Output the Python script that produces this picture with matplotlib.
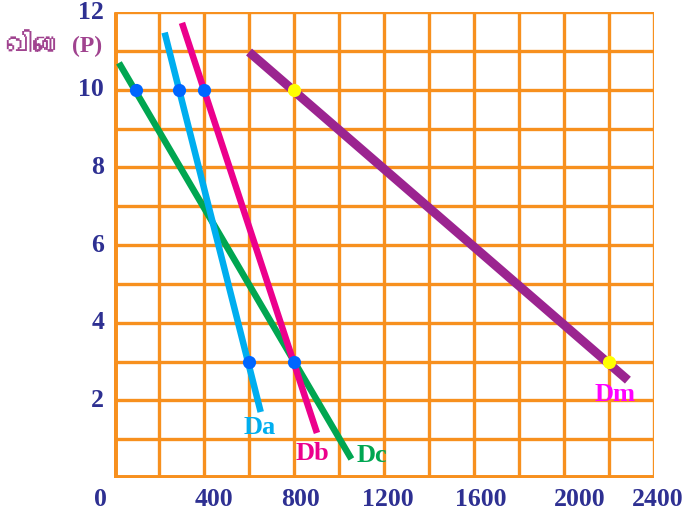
import matplotlib
matplotlib.use("Agg")
import matplotlib.pyplot as plt
from matplotlib import font_manager
from matplotlib.ft2font import FT2Font

# ---------------- data ----------------
x_ticks = [0, 400, 800, 1200, 1600, 2000, 2400]
x_tick_labels = ["0", "400", "800", "1200", "1600", "2000", "2400"]
x_label_pos = [-62, 444, 827, 1217, 1631, 2071, 2418]
y_ticks = [2, 4, 6, 8, 10, 12]
y_tick_labels = ["2", "4", "6", "8", "10", "12"]

# demand lines (endpoints)
da_x = [225, 652]
da_y = [11.47, 1.70]
db_x = [302, 902]
db_y = [11.72, 1.16]
dc_x = [22, 1055]
dc_y = [10.69, 0.49]
dm_x = [600, 2284]
dm_y = [10.97, 2.52]

# individual demand points (blue) and market demand points (yellow)
ind_pts_x = [98, 290, 400, 600, 800]
ind_pts_y = [10, 10, 10, 3, 3]
mkt_pts_x = [800, 2200]
mkt_pts_y = [10, 3]

curve_names = ["Da", "Db", "Dc", "Dm"]
curve_label_x = [649, 880, 1147, 2227]
curve_label_y = [1.29, 0.62, 0.57, 2.16]

ylabel_text = "விலை"
ylabel_p = "(P)"

# ---------------- style ----------------
ORANGE = "#f7901e"
NAVY = "#2e3092"
PURPLE_TXT = "#a0438f"
C_DA = "#00aeef"
C_DB = "#ec008c"
C_DC = "#00a651"
C_DM = "#9b2490"
label_colors = [C_DA, C_DB, C_DC, "#ff00ff"]


def find_tamil_font():
    for f in font_manager.fontManager.ttflist:
        try:
            ft = FT2Font(f.fname)
            if all(ft.get_char_index(ord(c)) for c in "விலை"):
                return f.name
        except Exception:
            continue
    return None


tamil = find_tamil_font()
serif = ["Liberation Serif", "DejaVu Serif"]

fig = plt.figure(figsize=(6.88, 5.14), dpi=100)
ax = fig.add_axes([114 / 688, 1 - 478 / 514, 540 / 688, 466 / 514])
ax.set_xlim(0, 2400)
ax.set_ylim(0, 12)

# grid
for xv in range(0, 2401, 200):
    ax.axvline(xv, color=ORANGE, lw=5.0 if xv == 0 else 2.4, zorder=1,
               solid_capstyle="butt")
for yv in range(0, 13):
    ax.axhline(yv, color=ORANGE, lw=5.0 if yv == 0 else 2.4, zorder=1,
               solid_capstyle="butt")
for s in ax.spines.values():
    s.set_visible(False)
ax.set_xticks([])
ax.set_yticks([])

# lines
ax.plot(dc_x, dc_y, color=C_DC, lw=4.7, solid_capstyle="butt", zorder=3)
ax.plot(da_x, da_y, color=C_DA, lw=4.7, solid_capstyle="butt", zorder=3)
ax.plot(db_x, db_y, color=C_DB, lw=4.7, solid_capstyle="butt", zorder=3)
ax.plot(dm_x, dm_y, color=C_DM, lw=6.5, solid_capstyle="butt", zorder=3)

ax.plot(ind_pts_x, ind_pts_y, "o", color="#0066ff", ms=9.5, mec="none", zorder=5)
ax.plot(mkt_pts_x, mkt_pts_y, "o", color="#ffff00", ms=9.5, mec="none", zorder=5)

# curve labels
for name, lx, ly, c in zip(curve_names, curve_label_x, curve_label_y, label_colors):
    ax.text(lx, ly, name, color=c, fontsize=19, fontweight="bold",
            family=serif, ha="center", va="center", zorder=6)

# tick labels
for lab, xp in zip(x_tick_labels, x_label_pos):
    ax.text(xp, -0.55, lab, color=NAVY, fontsize=18.5, fontweight="bold",
            family=serif, ha="center", va="center", clip_on=False)
for lab, yp in zip(y_tick_labels, y_ticks):
    ax.text(-44, yp, lab, color=NAVY, fontsize=18.5, fontweight="bold",
            family=serif, ha="right", va="center", clip_on=False)

# y axis label
ax.text(-53, 11.1, ylabel_p, color=PURPLE_TXT, fontsize=17, fontweight="bold",
        family=serif, ha="right", va="center", clip_on=False)
tfam = [tamil, "DejaVu Sans"] if tamil else ["DejaVu Sans"]
ax.text(-228, 11.1, ylabel_text, color=PURPLE_TXT, fontsize=21, fontweight="bold",
        family=tfam, ha="right", va="center", clip_on=False)

fig.savefig("out.png", dpi=100)
